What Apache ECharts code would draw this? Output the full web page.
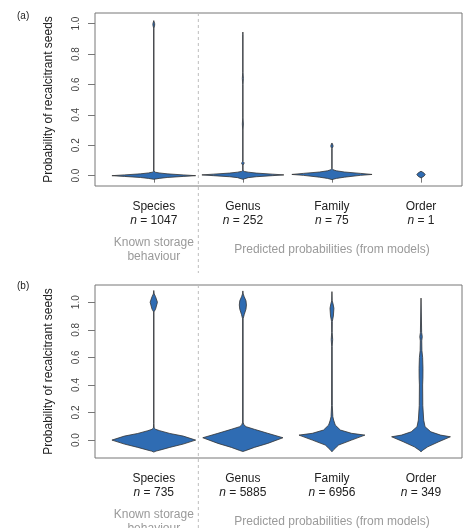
<!DOCTYPE html>
<html><head><meta charset="utf-8">
<script src="https://cdn.jsdelivr.net/npm/echarts@6/dist/echarts.min.js"></script>
<style>html,body{margin:0;padding:0;background:#fff}#c{width:467px;height:528px}</style>
</head><body><div id="c"></div><script>
// ---- data ----
const categories = ['Species', 'Genus', 'Family', 'Order'];
const countsA = [1047, 252, 75, 1];
const countsB = [735, 5885, 6956, 349];
const yTicks = [0, 0.2, 0.4, 0.6, 0.8, 1.0];
const xTicks = [1, 2, 3, 4];
const groupLabels = ['Known storage\nbehaviour', 'Predicted probabilities (from models)'];
const groupLabelX = [1, 3];
const separatorAt = 1.5;

// violin profiles: [probability, half-width in category units]
const aSpecies = [[-0.024,0],[-0.018,0.06],[-0.012,0.15],[-0.005,0.33],[0,0.47],[0.005,0.33],[0.012,0.15],[0.018,0.06],[0.023,0.015],[0.03,0.002],[0.97,0.002],[0.99,0.01],[1.0,0.01],[1.02,0]];
const aGenus = [[-0.024,0],[-0.013,0.06],[-0.007,0.15],[0,0.33],[0.005,0.46],[0.01,0.33],[0.017,0.15],[0.023,0.06],[0.028,0.015],[0.035,0.002],[0.07,0.002],[0.078,0.012],[0.085,0.014],[0.092,0.002],[0.3,0.002],[0.34,0.006],[0.38,0.002],[0.6,0.002],[0.64,0.006],[0.68,0.002],[0.93,0.002],[0.945,0]];
const aFamily = [[-0.026,0],[-0.018,0.05],[-0.01,0.14],[0.002,0.32],[0.008,0.45],[0.015,0.32],[0.024,0.14],[0.032,0.05],[0.039,0.012],[0.045,0.002],[0.18,0.002],[0.19,0.012],[0.2,0.012],[0.215,0]];
const aOrder = [[-0.015,0],[-0.005,0.03],[0.007,0.047],[0.019,0.03],[0.029,0]];

const bSpecies = [[-0.087,0],[-0.08,0.025],[-0.073,0.067],[-0.053,0.18],[-0.029,0.33],[0,0.47],[0.029,0.33],[0.048,0.18],[0.068,0.067],[0.078,0.02],[0.088,0.004],[0.12,0.002],[0.93,0.002],[0.95,0.02],[1.0,0.041],[1.04,0.02],[1.06,0.005],[1.085,0]];
const bGenus = [[-0.083,0],[-0.075,0.037],[-0.053,0.13],[-0.024,0.28],[0.017,0.45],[0.049,0.28],[0.078,0.13],[0.097,0.037],[0.11,0.012],[0.13,0.003],[0.88,0.003],[0.91,0.015],[0.95,0.035],[0.98,0.04],[1.01,0.035],[1.04,0.015],[1.06,0.004],[1.082,0]];
const bFamily = [[-0.085,0],[-0.068,0.022],[-0.036,0.075],[0.0,0.22],[0.036,0.37],[0.049,0.22],[0.073,0.094],[0.109,0.037],[0.145,0.019],[0.17,0.01],[0.25,0.004],[0.68,0.003],[0.73,0.008],[0.78,0.003],[0.86,0.004],[0.9,0.016],[0.956,0.022],[0.99,0.012],[1.01,0.003],[1.077,0]];
const bOrder = [[-0.085,0],[-0.073,0.02],[-0.049,0.075],[-0.012,0.2],[0.024,0.33],[0.036,0.22],[0.06,0.11],[0.097,0.045],[0.145,0.03],[0.25,0.02],[0.4,0.018],[0.45,0.021],[0.52,0.022],[0.6,0.018],[0.65,0.01],[0.72,0.008],[0.75,0.014],[0.78,0.007],[0.9,0.004],[1.03,0]];

const panelA = [aSpecies, aGenus, aFamily, aOrder];
const panelB = [bSpecies, bGenus, bFamily, bOrder];

// ---- chart ----
const FILL = '#2f6cb3', EDGE = '#333', BOX = '#777', TXT = '#222', GREY = '#9a9a9a';
const FONT = 'Liberation Sans';

function violinSeries(gi, profiles) {
  return {
    type: 'custom', xAxisIndex: gi, yAxisIndex: gi, silent: true,
    data: profiles.map((p, i) => [xTicks[i], 0]),
    renderItem(params, api) {
      const i = params.dataIndex, prof = profiles[i], cx = xTicks[i];
      const right = prof.map(([y, w]) => api.coord([cx + w, y]));
      const left = prof.slice().reverse().map(([y, w]) => api.coord([cx - w, y]));
      return { type: 'polygon', shape: { points: right.concat(left) },
        style: { fill: FILL, stroke: EDGE, lineWidth: 0.8 } };
    }
  };
}
function separatorSeries(gi, ymax, extend) {
  return {
    type: 'custom', xAxisIndex: gi, yAxisIndex: gi, silent: true, clip: false,
    data: [[separatorAt, ymax]],
    renderItem(params, api) {
      const p = api.coord([separatorAt, ymax]);
      return { type: 'line', shape: { x1: p[0], y1: p[1], x2: p[0], y2: p[1] + extend },
        style: { stroke: '#bdbdbd', lineWidth: 1, lineDash: [3, 3] } };
    }
  };
}
function groupLabelSeries(gi, ymin) {
  return {
    type: 'custom', xAxisIndex: gi, yAxisIndex: gi, silent: true, clip: false,
    data: groupLabelX.map(x => [x, ymin]),
    renderItem(params, api) {
      const i = params.dataIndex;
      const p = api.coord([groupLabelX[i], ymin]);
      return { type: 'text', x: p[0], y: p[1] + 64,
        style: { text: groupLabels[i], fill: GREY, fontSize: 12, fontFamily: FONT, lineHeight: 14,
          align: 'center', verticalAlign: 'middle' } };
    }
  };
}
function xLabelFormatter(counts) {
  return function (v) {
    const i = xTicks.indexOf(Math.round(v));
    if (i < 0) return '';
    return `{c|${categories[i]}}\n{i|n}{c| = ${counts[i]}}`;
  };
}
const rich = {
  c: { fontSize: 12, lineHeight: 14, color: TXT, fontFamily: FONT },
  i: { fontSize: 12, lineHeight: 14, color: TXT, fontFamily: FONT, fontStyle: 'italic' }
};
function xAxis(gi, counts) {
  return {
    type: 'value', gridIndex: gi, min: 0.34, max: 4.46,
    axisLine: { show: false }, splitLine: { show: false },
    axisTick: { show: true, customValues: xTicks, length: 7, lineStyle: { color: BOX } },
    axisLabel: { customValues: xTicks, margin: 14, hideOverlap: false, formatter: xLabelFormatter(counts), rich: rich }
  };
}
function yAxis(gi, min, max) {
  return {
    type: 'value', gridIndex: gi, min: min, max: max,
    name: 'Probability of recalcitrant seeds', nameLocation: 'middle', nameRotate: 90, nameGap: 40,
    nameTextStyle: { fontSize: 12, color: TXT, fontFamily: FONT },
    axisLine: { show: false }, splitLine: { show: false },
    axisTick: { show: true, customValues: yTicks, length: 7, lineStyle: { color: BOX } },
    axisLabel: { customValues: yTicks, rotate: 90, margin: 14, fontSize: 10, color: '#444', fontFamily: FONT,
      formatter: v => v.toFixed(1) }
  };
}

const chart = echarts.init(document.getElementById('c'));
chart.setOption({
  animation: false,
  backgroundColor: '#fff',
  grid: [
    { left: 95, top: 13, width: 367, height: 173, show: true, borderColor: BOX, borderWidth: 1 },
    { left: 95, top: 285, width: 367, height: 173, show: true, borderColor: BOX, borderWidth: 1 }
  ],
  xAxis: [xAxis(0, countsA), xAxis(1, countsB)],
  yAxis: [yAxis(0, -0.068, 1.07), yAxis(1, -0.13, 1.125)],
  graphic: [
    { type: 'text', left: 17, top: 11, style: { text: '(a)', fontSize: 10, fill: TXT, fontFamily: FONT } },
    { type: 'text', left: 17, top: 281, style: { text: '(b)', fontSize: 10, fill: TXT, fontFamily: FONT } }
  ],
  series: [
    separatorSeries(0, 1.07, 260),
    separatorSeries(1, 1.125, 250),
    groupLabelSeries(0, -0.068),
    groupLabelSeries(1, -0.13),
    violinSeries(0, panelA),
    violinSeries(1, panelB)
  ]
});
</script></body></html>
